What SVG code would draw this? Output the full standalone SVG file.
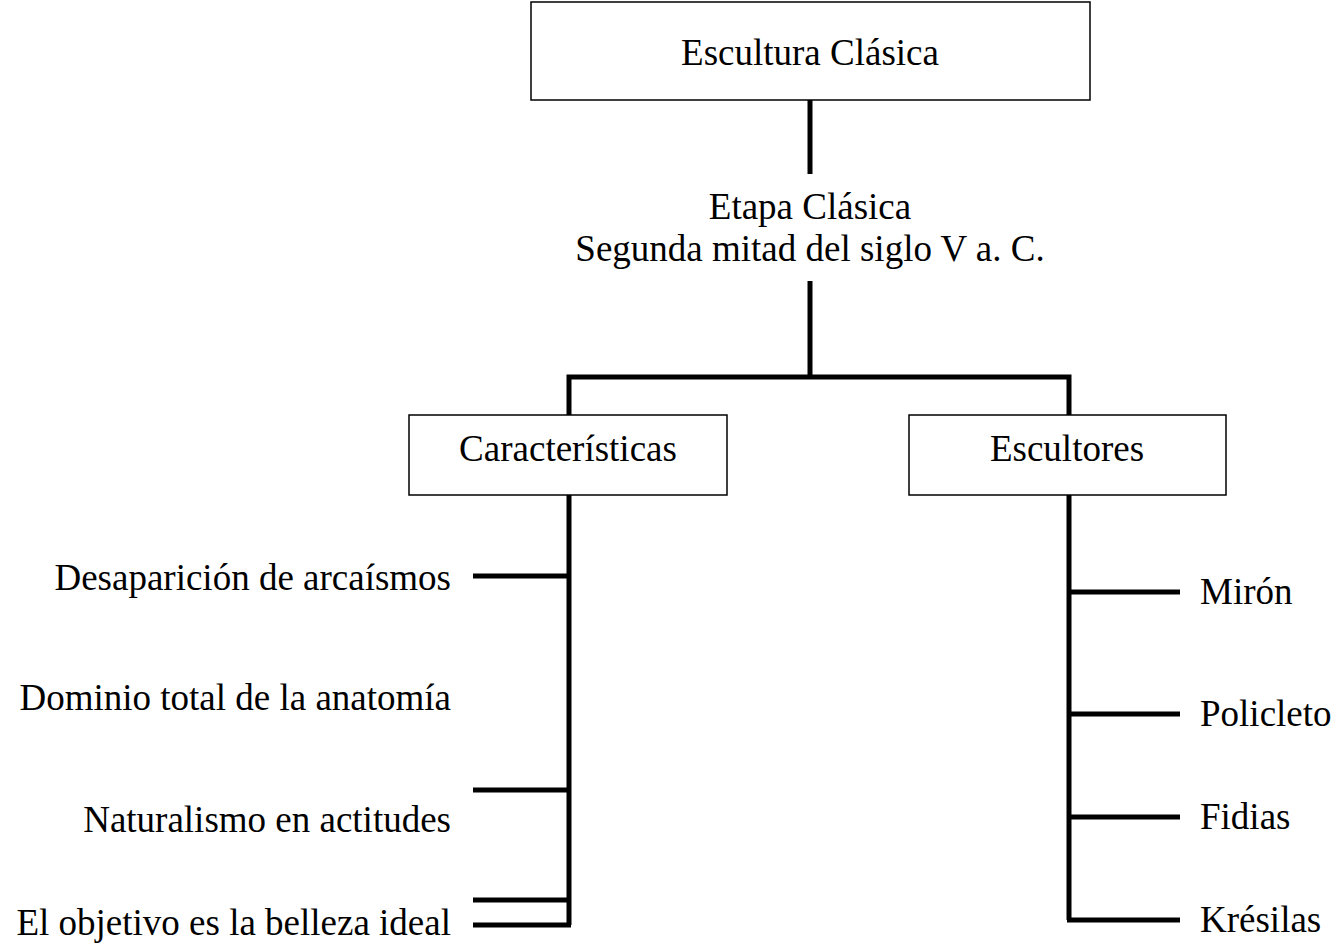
<svg xmlns="http://www.w3.org/2000/svg" width="1339" height="949" viewBox="0 0 1339 949">
<style>
text{font-family:"Liberation Serif","Times New Roman",serif;font-size:37px;fill:#000}
.box{fill:#fff;stroke:#000;stroke-width:1.5}
.c{text-anchor:middle}
.r{text-anchor:end}
.conn line,.conn path{stroke:#000;stroke-width:5;fill:none}
</style>
<rect width="1339" height="949" fill="#fff"/>
<g class="conn" id="connectors">
<line x1="810" y1="100" x2="810" y2="174"/>
<line x1="810" y1="281" x2="810" y2="377"/>
<path d="M569 415 V377 H1069 V415"/>
<line x1="569" y1="495" x2="569" y2="925"/>
<line x1="473" y1="576" x2="569" y2="576"/>
<line x1="473" y1="790" x2="569" y2="790"/>
<line x1="473" y1="900" x2="569" y2="900"/>
<line x1="473" y1="925" x2="571" y2="925"/>
<line x1="1069" y1="495" x2="1069" y2="920"/>
<line x1="1069" y1="592" x2="1180" y2="592"/>
<line x1="1069" y1="714" x2="1180" y2="714"/>
<line x1="1069" y1="817" x2="1180" y2="817"/>
<line x1="1067" y1="920" x2="1180" y2="920"/>
</g>
<g id="escultura-clasica">
<rect class="box" x="531" y="2" width="559" height="98"/>
<text class="c" x="810" y="65">Escultura Clásica</text>
</g>
<g id="etapa-clasica">
<text class="c" x="810" y="219">Etapa Clásica</text>
<text class="c" x="810" y="261">Segunda mitad del siglo V a. C.</text>
</g>
<g id="caracteristicas">
<rect class="box" x="409" y="415" width="318" height="80"/>
<text class="c" x="568" y="461">Características</text>
</g>
<g id="escultores">
<rect class="box" x="909" y="415" width="317" height="80"/>
<text class="c" x="1067" y="461">Escultores</text>
</g>
<g id="desaparicion"><text class="r" x="451" y="590">Desaparición de arcaísmos</text></g>
<g id="dominio"><text class="r" x="451" y="710">Dominio total de la anatomía</text></g>
<g id="naturalismo"><text class="r" x="451" y="832">Naturalismo en actitudes</text></g>
<g id="objetivo"><text class="r" x="451" y="935">El objetivo es la belleza ideal</text></g>
<g id="miron"><text x="1200" y="604">Mirón</text></g>
<g id="policleto"><text x="1200" y="726">Policleto</text></g>
<g id="fidias"><text x="1200" y="829">Fidias</text></g>
<g id="kresilas"><text x="1200" y="932">Krésilas</text></g>
</svg>
